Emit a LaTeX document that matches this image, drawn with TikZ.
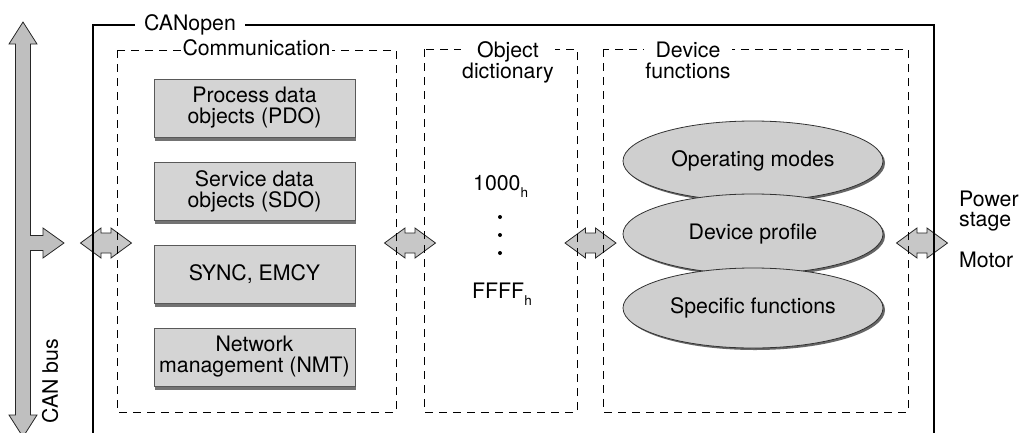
\documentclass[tikz,border=0pt]{standalone}
\usepackage{fontspec}
\setmainfont{TeX Gyre Heros}
\usetikzlibrary{shapes.geometric,shadows}

\begin{document}
\begin{tikzpicture}[x=1pt,y=-1pt,
  font=\fontsize{21.3}{21}\selectfont,
  frame/.style={line width=2pt},
  dashbox/.style={line width=0.9pt,dash pattern=on 8pt off 6pt},
  title/.style={fill=white,inner sep=1.5pt,align=center},
  block/.style={draw=black!65,fill=black!17,line width=0.8pt,minimum width=201pt,minimum height=58pt,
    align=center,inner sep=0pt,drop shadow={shadow xshift=1pt,shadow yshift=-4pt,fill=black!55,opacity=1}},
  blob/.style={ellipse,draw=black!80,fill=black!19,line width=0.8pt,minimum width=260pt,minimum height=80pt,
    inner sep=0pt,drop shadow={shadow xshift=2pt,shadow yshift=-2pt,fill=black!60,opacity=1}},
  arrowfill/.style={draw=black!85,fill=black!22,line width=0.8pt,line join=miter},
  pics/port/.style={code={
    \filldraw[arrowfill] (-25.5,0) -- (-5,-15) -- (-5,-10) -- (5,-10) -- (5,-15) -- (25.5,0)
      -- (5,15) -- (5,10) -- (-5,10) -- (-5,15) -- cycle;}}]
\useasboundingbox (0,0) rectangle (1021,432);
\clip (0,0) rectangle (1021,432);

% CAN bus
\filldraw[arrowfill,fill=black!25] (23,22) -- (37,44) -- (30.5,44) -- (30.5,235.5) -- (43,235.5)
  -- (43,228) -- (64,243) -- (43,258) -- (43,250.5) -- (30.5,250.5) -- (30.5,415) -- (37,415)
  -- (23,437) -- (9,415) -- (15.5,415) -- (15.5,44) -- (9,44) -- cycle;
\node[rotate=90] (canbus) at (50,381) {CAN bus};

% ports between the parts
\coordinate (busport) at (106,243);
\coordinate (dictport) at (410,243);
\coordinate (funcport) at (590.5,243);
\coordinate (motorport) at (922,243);
\foreach \p in {busport,dictport,funcport,motorport} \pic at (\p) {port};

% CANopen frame
\draw[frame] (93,440) -- (93,25) -- (934,25) -- (934,440);
\node[title,inner xsep=9pt] (canopen) at (190,25) {CANopen};

% dashed areas
\draw[dashbox] (117,50) rectangle (396,412);
\draw[dashbox] (424,49) rectangle (577,412);
\draw[dashbox] (603,49) rectangle (908,412);
\node[title] (comm) at (256.5,47.5) {Communication};
\node[title] (dict) at (508,62) {Object\\dictionary};
\node[title] (func) at (688,60) {Device\\functions};

% communication objects
\node[block] (pdo) at (254.5,108) {Process data\\objects (PDO)};
\node[block] (sdo) at (254.5,191) {Service data\\objects (SDO)};
\node[block] (sync) at (254.5,274) {SYNC, EMCY};
\node[block] (nmt) at (254.5,357) {Network\\management (NMT)};

% dictionary entries
\node[anchor=base west,inner sep=0] (first) at (473,190) {1000\raisebox{-7pt}{\fontsize{13.5}{14}\selectfont h}};
\foreach \y in {217,235,253} \fill (500,\y) circle (2);
\node[anchor=base west,inner sep=0] (last) at (472,298) {FFFF\raisebox{-7pt}{\fontsize{13.5}{14}\selectfont h}};

% device functions
\node[blob] (opmodes) at (753,161) {Operating modes};
\node[blob] (profile) at (753,234) {Device profile};
\node[blob] (specific) at (753,308) {Specific functions};

% outside
\node[anchor=north west,inner sep=0,align=left,font=\fontsize{21.3}{20}\selectfont] (stage) at (959,191) {Power\\stage};
\node[anchor=base west,inner sep=0] (motor) at (959,267) {Motor};
\end{tikzpicture}
\end{document}
